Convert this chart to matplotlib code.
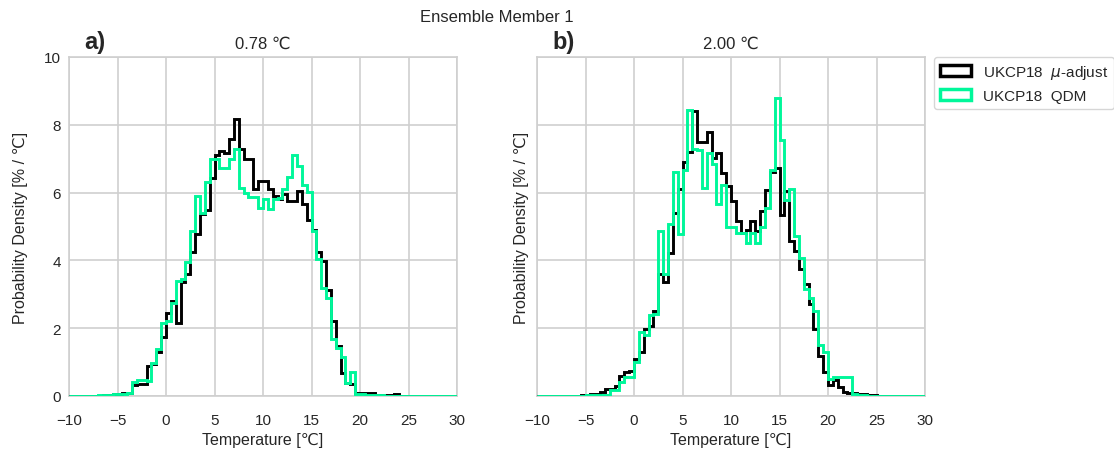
import numpy as np
import matplotlib
matplotlib.use("Agg")
import matplotlib.pyplot as plt
from matplotlib.patches import Patch

plt.rcParams['font.family'] = ['Liberation Sans', 'DejaVu Sans']

# ---------------- data (bins of 0.5 degC from -10 to 30) ----------------
bin_start = -10.0
bin_width = 0.5

# Panel a) 0.78 degC
mu_adjust_a = [
    0, 0, 0, 0, 0, 0,
    0.00, 0.02, 0.03, 0.05, 0.07, 0.08, 0.10, 0.32, 0.35, 0.35,
    0.88, 0.95, 1.30, 1.75, 2.45, 2.80, 2.15, 3.35, 3.60, 4.24,
    4.78, 5.37, 5.50, 6.44, 7.12, 7.22, 7.17, 7.58, 8.17, 7.30,
    7.00, 6.98, 6.10, 6.35, 6.35, 6.10, 5.90, 5.80, 5.95, 5.75,
    5.75, 6.05, 5.65, 5.20, 4.90, 4.25, 3.97, 3.14, 2.22, 1.47,
    0.69, 0.38, 0.36, 0.08, 0.10, 0.08, 0.08, 0.04, 0.03, 0.02,
    0.02, 0.05, 0.01, 0.00,
    0, 0, 0, 0, 0, 0, 0, 0, 0, 0,
]
qdm_a = [
    0, 0, 0, 0, 0, 0,
    0.02, 0.03, 0.04, 0.05, 0.06, 0.06, 0.08, 0.42, 0.48, 0.48,
    0.45, 0.98, 1.40, 2.15, 2.20, 2.75, 3.40, 3.45, 3.95, 4.88,
    5.90, 5.40, 6.30, 7.00, 7.00, 6.72, 6.72, 7.00, 7.28, 6.15,
    6.00, 5.88, 5.88, 5.55, 5.80, 5.52, 5.80, 5.85, 6.10, 6.46,
    7.12, 6.78, 6.22, 6.03, 4.88, 4.05, 3.18, 2.88, 1.67, 1.42,
    1.15, 0.39, 0.70, 0.05, 0.06, 0.04, 0.03, 0.02, 0.02, 0.01,
    0.01, 0.01, 0.01, 0.01,
    0, 0, 0, 0, 0, 0, 0, 0, 0, 0,
]

# Panel b) 2.00 degC
mu_adjust_b = [
    0, 0, 0, 0, 0, 0,
    0.00, 0.01, 0.01, 0.02, 0.03, 0.07, 0.07, 0.12, 0.20, 0.22,
    0.30, 0.59, 0.70, 0.75, 1.10, 1.30, 1.98, 2.07, 2.50, 3.60,
    3.35, 4.22, 5.40, 6.10, 6.90, 7.20, 8.40, 7.50, 7.50, 7.80,
    7.02, 7.16, 6.58, 6.20, 5.74, 5.16, 4.81, 4.91, 5.16, 4.86,
    5.45, 6.09, 6.62, 6.72, 5.35, 6.04, 4.57, 4.28, 3.74, 3.30,
    2.71, 1.98, 1.19, 0.70, 0.31, 0.46, 0.26, 0.12, 0.10, 0.10,
    0.06, 0.06, 0.04, 0.02,
    0, 0, 0, 0, 0, 0, 0, 0, 0, 0,
]
qdm_b = [
    0, 0, 0, 0, 0, 0,
    0.01, 0.01, 0.01, 0.01, 0.02, 0.02, 0.02, 0.02, 0.03, 0.17,
    0.17, 0.40, 0.57, 0.57, 1.00, 1.88, 1.80, 2.40, 2.42, 4.88,
    3.60, 5.06, 6.60, 4.77, 6.67, 8.44, 7.30, 7.25, 6.14, 7.16,
    6.85, 5.65, 6.23, 5.00, 5.00, 4.80, 4.80, 4.50, 4.80, 4.50,
    5.00, 5.55, 6.67, 8.78, 7.55, 5.79, 6.10, 4.72, 4.08, 3.15,
    2.90, 2.51, 1.49, 1.29, 0.51, 0.56, 0.56, 0.56, 0.56, 0.07,
    0.03, 0.02, 0.01, 0.01,
    0, 0, 0, 0, 0, 0, 0, 0, 0, 0,
]

panel_labels = ['a)', 'b)']
panel_titles = ['0.78 \u2103', '2.00 \u2103']
series_labels = ['UKCP18  $\\mu$-adjust', 'UKCP18  QDM']
x_ticks = [-10, -5, 0, 5, 10, 15, 20, 25, 30]
y_ticks = [0, 2, 4, 6, 8, 10]

BLACK = '#000000'
GREEN = '#00F79A'
GRID = '#cfcfcf'
TEXT = '#262626'

# ---------------- figure ----------------
W, H = 1114, 452
fig = plt.figure(figsize=(W / 100, H / 100), dpi=100)
ax_a = fig.add_axes([69 / W, 1 - 397 / H, 388 / W, 339 / H])
ax_b = fig.add_axes([537 / W, 1 - 397 / H, 388 / W, 339 / H])

for i, (ax, blk, grn) in enumerate([(ax_a, mu_adjust_a, qdm_a), (ax_b, mu_adjust_b, qdm_b)]):
    n = len(blk)
    edges = bin_start + bin_width * np.arange(n + 1)
    centers = edges[:-1] + bin_width / 2
    ax.hist(centers, bins=edges, weights=blk, histtype='step', color=BLACK, lw=2.1, zorder=3)
    ax.hist(centers, bins=edges, weights=grn, histtype='step', color=GREEN, lw=2.1, zorder=4)
    ax.set_xlim(-10, 30)
    ax.set_ylim(0, 10)
    ax.set_xticks(x_ticks)
    ax.set_yticks(y_ticks)
    ax.grid(True, color=GRID, lw=1.2)
    ax.set_axisbelow(True)
    for sp in ax.spines.values():
        sp.set_color(GRID)
        sp.set_linewidth(1.2)
    ax.tick_params(length=0, labelsize=11, colors=TEXT)
    ax.tick_params(axis='x', pad=12)
    ax.tick_params(axis='y', pad=6)
    ax.set_xlabel('Temperature [\u2103]', fontsize=11.5, color=TEXT, labelpad=4)
    ax.set_title(panel_titles[i], fontsize=12, color=TEXT, pad=7)
    ax.text(0.04, 1.012, panel_labels[i], transform=ax.transAxes, fontsize=17,
            fontweight='bold', color=TEXT, ha='left', va='bottom')

ax_a.set_ylabel('Probability Density [% / \u2103]', fontsize=11.5, color=TEXT, labelpad=11)
ax_b.set_yticklabels([])
ax_b.set_ylabel('Probability Density [% / \u2103]', fontsize=11.5, color=TEXT, labelpad=0)

fig.text(497 / W, 1 - 18 / H, 'Ensemble Member 1', ha='center', va='center',
         fontsize=12, color=TEXT)

handles = [Patch(facecolor='none', edgecolor=BLACK, lw=2.5, label=series_labels[0]),
           Patch(facecolor='none', edgecolor=GREEN, lw=2.5, label=series_labels[1])]
leg = ax_b.legend(handles=handles, loc='upper left', bbox_to_anchor=(1.023, 1.0),
                  borderaxespad=0, fontsize=11, frameon=True, fancybox=True,
                  handlelength=2.0, handleheight=0.7)
leg.get_frame().set_edgecolor('#cccccc')
for t in leg.get_texts():
    t.set_color(TEXT)

fig.savefig('out.png', dpi=100)
